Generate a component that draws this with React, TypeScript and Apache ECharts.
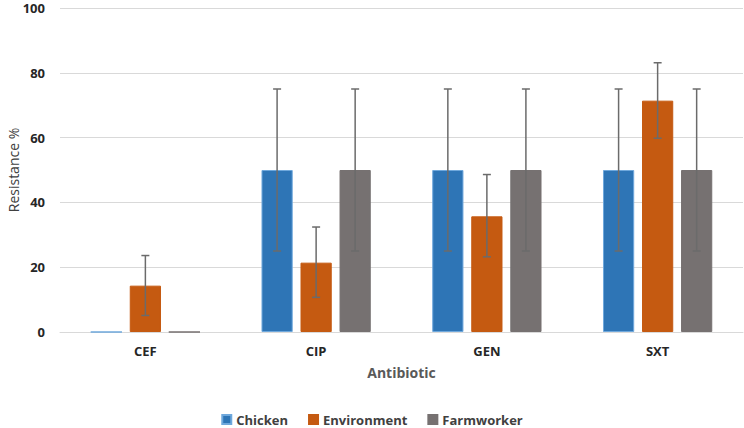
import React, { useEffect, useRef } from "react";
import * as echarts from "echarts";

const categories = ["CEF", "CIP", "GEN", "SXT"];
const seriesNames = ["Chicken", "Environment", "Farmworker"];
const chicken = [0, 50, 50, 50];
const environment = [14.3, 21.4, 35.7, 71.4];
const farmworker = [0, 50, 50, 50];
// error bar bounds (low, high) per category
const chickenLow = [0, 25, 25, 25];
const chickenHigh = [0, 75, 75, 75];
const environmentLow = [5.1, 10.7, 23.2, 59.8];
const environmentHigh = [23.6, 32.4, 48.6, 83.1];
const farmworkerLow = [0, 25, 25, 25];
const farmworkerHigh = [0, 75, 75, 75];
const yTicks = [0, 20, 40, 60, 80, 100];

const colors = ["#2E75B6", "#C55A11", "#767171"];
const CAT_GAP = 0.36;
const BAR_GAP = 0.25;

export default function App() {
  const ref = useRef<HTMLDivElement>(null);
  useEffect(() => {
    document.body.style.margin = "0";
    const chart = echarts.init(ref.current!, undefined, { renderer: "svg" });
    const values = [chicken, environment, farmworker];
    const lows = [chickenLow, environmentLow, farmworkerLow];
    const highs = [chickenHigh, environmentHigh, farmworkerHigh];

    const barSeries = seriesNames.map((name, i) => ({
      name,
      type: "bar",
      data: values[i],
      barCategoryGap: CAT_GAP * 100 + "%",
      barGap: BAR_GAP * 100 + "%",
      itemStyle: {
        color: colors[i],
        borderColor: i === 0 ? "#6FA8DC" : colors[i],
        borderWidth: 1,
      },
    }));

    const errSeries = seriesNames.map((name, i) => ({
      name: name + "-err",
      type: "custom",
      z: 5,
      data: categories
        .map((_, c) => [c, lows[i][c], highs[i][c]])
        .filter((d) => d[2] > d[1]),
      encode: { x: 0, y: [1, 2] },
      renderItem: (params: any, api: any) => {
        const c = api.value(0);
        const band = api.size([1, 0])[0];
        const bw = (band * (1 - CAT_GAP)) / (3 + 2 * BAR_GAP);
        const off = (i - 1) * bw * (1 + BAR_GAP);
        const lo = api.coord([c, api.value(1)]);
        const hi = api.coord([c, api.value(2)]);
        const x = lo[0] + off;
        const cap = 4;
        const style = { stroke: "#6B6B6B", lineWidth: 1.5 };
        return {
          type: "group",
          children: [
            { type: "line", shape: { x1: x, y1: lo[1], x2: x, y2: hi[1] }, style },
            { type: "line", shape: { x1: x - cap, y1: lo[1], x2: x + cap, y2: lo[1] }, style },
            { type: "line", shape: { x1: x - cap, y1: hi[1], x2: x + cap, y2: hi[1] }, style },
          ],
        };
      },
    }));

    chart.setOption({
      animation: false,
      textStyle: { fontFamily: "'Open Sans', sans-serif" },
      grid: { left: 60, right: 1, top: 8, bottom: 96, outerBoundsMode: "none", containLabel: false },
      legend: {
        data: seriesNames,
        bottom: -3,
        left: "center",
        itemWidth: 9,
        itemHeight: 9,
        itemGap: 20,
        icon: "rect",
        textStyle: { fontSize: 13, fontWeight: "bold", color: "#404040", fontFamily: "'Open Sans', sans-serif" },
      },
      xAxis: {
        type: "category",
        data: categories,
        name: "Antibiotic",
        nameLocation: "middle",
        nameGap: 33,
        nameTextStyle: { fontSize: 14, fontWeight: "bold", color: "#595959" },
        axisTick: { show: false },
        axisLine: { lineStyle: { color: "#D9D9D9", width: 1 } },
        axisLabel: { fontSize: 13, fontWeight: "bold", color: "#262626", margin: 12 },
      },
      yAxis: {
        type: "value",
        min: yTicks[0],
        max: yTicks[yTicks.length - 1],
        interval: 20,
        name: "Resistance %",
        nameLocation: "middle",
        nameGap: 40,
        nameMoveOverlap: false,
        nameTextStyle: { fontSize: 14, color: "#404040" },
        axisLine: { show: false },
        axisTick: { show: false },
        splitLine: { lineStyle: { color: "#D9D9D9", width: 1 } },
        axisLabel: { fontSize: 13, fontWeight: "bold", color: "#262626", margin: 15 },
      },
      series: [...barSeries, ...errSeries],
    });
    return () => chart.dispose();
  }, []);
  return <div ref={ref} style={{ width: 744, height: 428 }} />;
}
